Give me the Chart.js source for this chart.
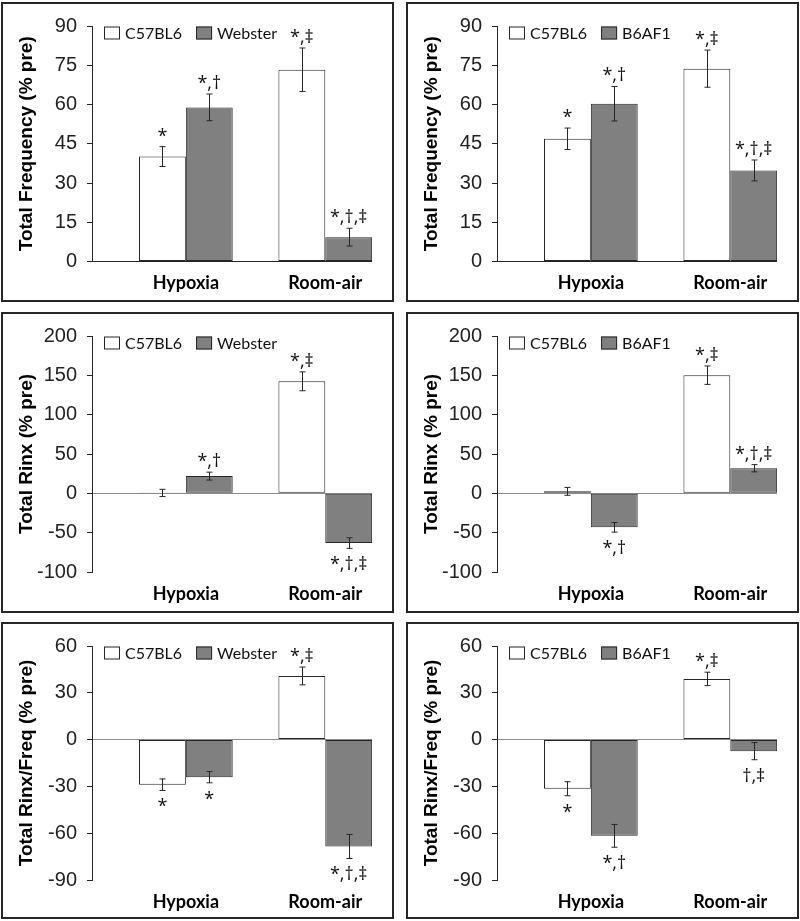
<!DOCTYPE html>
<html>
<head>
<meta charset="utf-8">
<title>Total Frequency / Rinx / Rinx-Freq</title>
<script src="https://cdn.jsdelivr.net/npm/chart.js@4.4.1/dist/chart.umd.min.js"></script>
<style>
  body { margin: 0; background: #fff; }
  .panel { position: absolute; border: 2px solid #262626; width: 389px; background: #fff; }
  canvas { display: block; }
</style>
</head>
<body>

<div class="panel" style="left:1px;top:2px"><canvas id="c1"></canvas></div>
<div class="panel" style="left:406px;top:2px"><canvas id="c2"></canvas></div>
<div class="panel" style="left:1px;top:312px"><canvas id="c3"></canvas></div>
<div class="panel" style="left:406px;top:312px"><canvas id="c4"></canvas></div>
<div class="panel" style="left:1px;top:622px"><canvas id="c5"></canvas></div>
<div class="panel" style="left:406px;top:622px"><canvas id="c6"></canvas></div>

<script>
var categories = ['Hypoxia', 'Room-air'];

// Total Frequency (% pre)
var freqC57w = [40.1, 73.3],  freqC57wErr = [3.8, 8.3],  freqC57wSig = ['*', '*,‡'];
var freqWebster = [58.9, 9.3], freqWebsterErr = [5.1, 3.4], freqWebsterSig = ['*,†', '*,†,‡'];
var freqC57b = [46.9, 73.7],  freqC57bErr = [4.1, 7.1],  freqC57bSig = ['*', '*,‡'];
var freqB6AF1 = [60.3, 34.8], freqB6AF1Err = [6.6, 4.0], freqB6AF1Sig = ['*,†', '*,†,‡'];

// Total Rinx (% pre)
var rinxC57w = [0.5, 142.4],   rinxC57wErr = [4.6, 12.0],  rinxC57wSig = ['', '*,‡'];
var rinxWebster = [21.9, -63.2], rinxWebsterErr = [5.0, 6.7], rinxWebsterSig = ['*,†', '*,†,‡'];
var rinxC57b = [2.5, 150.2],   rinxC57bErr = [5.0, 11.7],  rinxC57bSig = ['', '*,‡'];
var rinxB6AF1 = [-43.2, 31.9], rinxB6AF1Err = [6.1, 4.6],  rinxB6AF1Sig = ['*,†', '*,†,‡'];

// Total Rinx/Freq (% pre)
var ratioC57w = [-28.9, 40.8],    ratioC57wErr = [3.7, 5.7],    ratioC57wSig = ['*', '*,‡'];
var ratioWebster = [-24.1, -68.5], ratioWebsterErr = [3.6, 7.7], ratioWebsterSig = ['*', '*,†,‡'];
var ratioC57b = [-31.5, 38.9],    ratioC57bErr = [4.5, 4.3],    ratioC57bSig = ['*', '*,‡'];
var ratioB6AF1 = [-61.7, -7.4],   ratioB6AF1Err = [7.3, 5.5],   ratioB6AF1Sig = ['*,†', '†,‡'];

// y axis ranges [min, max, step]
var freqTicks = [0, 90, 15];
var rinxTicks = [-100, 200, 50];
var ratioTicks = [-90, 60, 30];

var WHITE = '#ffffff', GREY = '#808080', LINE = '#262626';
var SANS = '"Liberation Sans", Arial, sans-serif';
var CAL = 'Lato, "Open Sans", sans-serif';
var MARK = '"Open Sans", Lato, sans-serif';

var panels = [
  {id: 'c1', h: 296, top: 18, xh: 38.5, title: 'Total Frequency (% pre)', ticks: freqTicks,
   a: ['C57BL6', freqC57w, freqC57wErr, freqC57wSig], b: ['Webster', freqWebster, freqWebsterErr, freqWebsterSig]},
  {id: 'c2', h: 296, top: 18, xh: 38.5, title: 'Total Frequency (% pre)', ticks: freqTicks,
   a: ['C57BL6', freqC57b, freqC57bErr, freqC57bSig], b: ['B6AF1', freqB6AF1, freqB6AF1Err, freqB6AF1Sig]},
  {id: 'c3', h: 297, top: 20, xh: 39, title: 'Total Rinx (% pre)', ticks: rinxTicks,
   a: ['C57BL6', rinxC57w, rinxC57wErr, rinxC57wSig], b: ['Webster', rinxWebster, rinxWebsterErr, rinxWebsterSig]},
  {id: 'c4', h: 297, top: 20, xh: 39, title: 'Total Rinx (% pre)', ticks: rinxTicks,
   a: ['C57BL6', rinxC57b, rinxC57bErr, rinxC57bSig], b: ['B6AF1', rinxB6AF1, rinxB6AF1Err, rinxB6AF1Sig]},
  {id: 'c5', h: 293, top: 19, xh: 37, title: 'Total Rinx/Freq (% pre)', ticks: ratioTicks,
   a: ['C57BL6', ratioC57w, ratioC57wErr, ratioC57wSig], b: ['Webster', ratioWebster, ratioWebsterErr, ratioWebsterSig]},
  {id: 'c6', h: 293, top: 19, xh: 37, title: 'Total Rinx/Freq (% pre)', ticks: ratioTicks,
   a: ['C57BL6', ratioC57b, ratioC57bErr, ratioC57bSig], b: ['B6AF1', ratioB6AF1, ratioB6AF1Err, ratioB6AF1Sig]}
];

// error bars + significance marks
var errorBars = {
  id: 'errorBars',
  afterDatasetsDraw: function(chart) {
    var ctx = chart.ctx, ys = chart.scales.y;
    chart.data.datasets.forEach(function(ds, i) {
      chart.getDatasetMeta(i).data.forEach(function(bar, j) {
        var v = ds.data[j].y, e = ds.err[j];
        var t = ys.getPixelForValue(v + e), b = ys.getPixelForValue(v - e);
        var x = Math.round(bar.x) + 0.5;
        ctx.save();
        ctx.strokeStyle = LINE;
        ctx.lineWidth = 1;
        ctx.beginPath();
        ctx.moveTo(x, t); ctx.lineTo(x, b);
        ctx.moveTo(x - 3, t); ctx.lineTo(x + 3, t);
        ctx.moveTo(x - 3, b); ctx.lineTo(x + 3, b);
        ctx.stroke();
        var s = ds.sig[j];
        if (s) {
          ctx.font = '18px ' + MARK;
          ctx.fillStyle = '#111';
          ctx.textAlign = 'center';
          ctx.textBaseline = 'alphabetic';
          if (v >= 0) ctx.fillText(s, bar.x, t - 5);
          else ctx.fillText(s, bar.x, b + 22);
        }
        ctx.restore();
      });
    });
  }
};

// legend drawn inside the plot, top left
var keyLegend = {
  id: 'keyLegend',
  afterDraw: function(chart) {
    var ctx = chart.ctx, area = chart.chartArea;
    var x = area.left + 12, cy = area.top + 7;
    ctx.save();
    ctx.font = '16px ' + CAL;
    ctx.textBaseline = 'middle';
    ctx.textAlign = 'left';
    chart.data.datasets.forEach(function(ds) {
      ctx.fillStyle = ds.backgroundColor;
      ctx.fillRect(x, cy - 6.5, 16, 13);
      ctx.strokeStyle = LINE;
      ctx.lineWidth = 1;
      ctx.strokeRect(x + 0.5, cy - 6, 15, 12);
      ctx.fillStyle = '#111';
      ctx.fillText(ds.label, x + 21, cy + 1);
      x += 21 + ctx.measureText(ds.label).width + 14;
    });
    ctx.restore();
  }
};

function makeSet(s, color) {
  return {
    label: s[0],
    data: s[1].map(function(v, i) { return {x: i, y: v}; }),
    err: s[2],
    sig: s[3],
    backgroundColor: color,
    borderColor: LINE,
    borderWidth: 1,
    borderSkipped: false,
    categoryPercentage: 0.672,
    barPercentage: 1.0
  };
}

function draw() {
  panels.forEach(function(p) {
    var cv = document.getElementById(p.id);
    cv.width = 389;
    cv.height = p.h;
    var zeroCol = p.ticks[0] === 0 ? LINE : '#8c8c8c';
    new Chart(cv, {
      type: 'bar',
      data: { datasets: [makeSet(p.a, WHITE), makeSet(p.b, GREY)] },
      options: {
        responsive: false,
        animation: false,
        devicePixelRatio: 1,
        layout: { padding: { top: p.top, right: 20, left: 0, bottom: 0 } },
        plugins: { legend: { display: false }, tooltip: { enabled: false } },
        scales: {
          x: {
            type: 'linear',
            offset: false,
            bounds: 'data',
            min: -0.673,
            max: 1.335,
            afterBuildTicks: function(s) { s.ticks = [{value: 0}, {value: 1}]; },
            afterFit: function(s) { s.height = p.xh; },
            ticks: {
              callback: function(v) { return categories[v]; },
              font: { family: CAL, size: 18, weight: 'bold', lineHeight: 1.2 },
              color: '#000',
              padding: 11,
              maxRotation: 0,
              autoSkip: false
            },
            grid: { display: false, drawTicks: false, offset: false },
            border: { display: false }
          },
          y: {
            min: p.ticks[0],
            max: p.ticks[1],
            afterFit: function(s) { s.width = 89; },
            ticks: {
              stepSize: p.ticks[2],
              font: { family: SANS, size: 20 },
              color: '#222',
              padding: 10
            },
            grid: {
              drawTicks: true,
              tickLength: 5,
              tickColor: LINE,
              color: function(c) { return c.tick && c.tick.value === 0 ? zeroCol : 'rgba(0,0,0,0)'; }
            },
            border: { display: true, color: LINE, width: 1 },
            title: {
              display: true,
              text: p.title,
              color: '#000',
              font: { family: SANS, size: 19, weight: 'bold', lineHeight: 1.2 },
              padding: { top: 12, bottom: 0 }
            }
          }
        }
      },
      plugins: [errorBars, keyLegend]
    });
  });
}

if (document.fonts && document.fonts.load) {
  Promise.all([
    document.fonts.load('18px Lato'),
    document.fonts.load('bold 18px Lato'),
    document.fonts.load('18px "Open Sans"'),
    document.fonts.load('20px "Liberation Sans"'),
    document.fonts.load('bold 19px "Liberation Sans"')
  ]).then(draw, draw);
} else {
  draw();
}
</script>
</body>
</html>
